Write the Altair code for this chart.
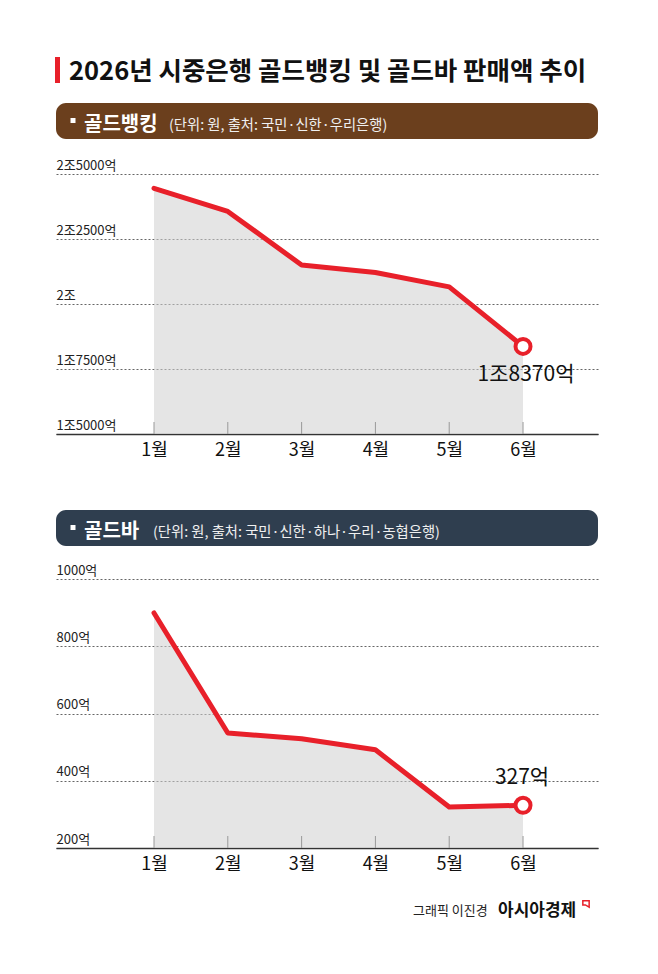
import altair as alt
import pandas as pd

FONT = "Noto Sans CJK KR"
RED = "#e8202a"
BROWN = "#6b3f1d"
SLATE = "#2f3e4f"
W = 542

# ---------------- data ----------------
title_text = ["2026년 시중은행 골드뱅킹 및 골드바 판매액 추이"]
months = [1, 2, 3, 4, 5, 6]
month_labels = ["1월", "2월", "3월", "4월", "5월", "6월"]

bank_title = ["골드뱅킹"]
bank_sub = ["(단위: 원, 출처: 국민·신한·우리은행)"]
bank_values = [24450, 23560, 21500, 21210, 20660, 18370]
bank_last_label = "1조8370억"
bank_ticks = [15000, 17500, 20000, 22500, 25000]
bank_tick_labels = ["1조5000억", "1조7500억", "2조", "2조2500억", "2조5000억"]

bar_title = ["골드바"]
bar_sub = ["(단위: 원, 출처: 국민·신한·하나·우리·농협은행)"]
bar_values = [899, 542, 525, 492, 322, 327]
bar_last_label = "327억"
bar_ticks = [200, 400, 600, 800, 1000]
bar_tick_labels = ["200억", "400억", "600억", "800억", "1000억"]

credit_name = ["그래픽 이진경"]
credit_brand = ["아시아경제"]


def label_expr(vals, labels):
    expr = "''"
    for v, l in reversed(list(zip(vals, labels))):
        expr = f"datum.value == {v} ? '{l}' : ({expr})"
    return expr


xscale = alt.Scale(domain=[-0.328, 7.016], nice=False, zero=False)


def panel(values, ticks, tick_labels, last_label, height, tdx, tdy):
    df = pd.DataFrame({
        "month": months,
        "value": values,
        "label": [""] * (len(months) - 1) + [last_label],
    })
    base = alt.Chart(df)
    xenc = alt.X(
        "month:Q", scale=xscale,
        axis=alt.Axis(values=months, labelExpr=label_expr(months, month_labels),
                      grid=False, ticks=False, domain=True, domainColor="#333",
                      domainWidth=1.5, labelFontSize=18, labelColor="#111",
                      labelPadding=7, title=None, labelFlush=False))
    yenc = alt.Y(
        "value:Q", scale=alt.Scale(domain=[ticks[0], ticks[-1]], nice=False, zero=False),
        axis=alt.Axis(values=ticks, labelExpr=label_expr(ticks, tick_labels),
                      orient="left", labelAlign="left", labelBaseline="alphabetic",
                      labelOffset=-5, labelPadding=0, ticks=False, domain=False,
                      grid=True, gridDash=[2, 2], gridColor="#666", gridWidth=1,
                      labelFontSize=13, labelColor="#222", title=None,
                      labelFlush=False, labelOverlap=False))
    area = base.mark_area(color="#cfcfcf", opacity=0.55).encode(
        x=xenc, y=yenc, y2=alt.datum(ticks[0]))
    rules = base.mark_rule(color="#999", strokeWidth=1).encode(
        x="month:Q", y=alt.value(height - 12), y2=alt.value(height))
    line = base.mark_line(color=RED, strokeWidth=5, strokeCap="round",
                          strokeJoin="round").encode(x="month:Q", y="value:Q")
    last = base.transform_filter(alt.datum.month == months[-1])
    pt = last.mark_point(filled=True, fill="white", stroke=RED, strokeWidth=4,
                         size=225, opacity=1).encode(x="month:Q", y="value:Q")
    txt = last.mark_text(fontSize=21, dx=tdx, dy=tdy, color="#111",
                         baseline="middle").encode(
        x="month:Q", y="value:Q", text="label:N")
    return alt.layer(area, rules, line, pt, txt).properties(width=W, height=height)


def header(title, sub, color, top, height, sub_x):
    d1 = pd.DataFrame({"t": title})
    d2 = pd.DataFrame({"t": sub})
    rect = alt.Chart(d1).mark_rect(color=color, cornerRadius=10).encode(
        x=alt.value(0), x2=alt.value(W), y=alt.value(top), y2=alt.value(top + 36))
    bullet = alt.Chart(d1).mark_square(color="white", size=25, opacity=1).encode(
        x=alt.value(17), y=alt.value(top + 17.5))
    t1 = alt.Chart(d1).mark_text(align="left", baseline="alphabetic", fontSize=20,
                                 fontWeight="bold", color="white").encode(
        x=alt.value(28), y=alt.value(top + 27.5), text="t:N")
    t2 = alt.Chart(d2).mark_text(align="left", baseline="alphabetic", fontSize=14.3,
                                 color="#f0f0f0").encode(
        x=alt.value(sub_x), y=alt.value(top + 27), text="t:N")
    return alt.layer(rect, bullet, t1, t2).properties(width=W, height=height)


one = pd.DataFrame({"t": title_text})
block_title = alt.layer(
    alt.Chart(one).mark_rule(color=RED, strokeWidth=5).encode(
        x=alt.value(1.5), y=alt.value(7), y2=alt.value(33)),
    alt.Chart(one).mark_text(align="left", baseline="alphabetic", fontSize=25.5,
                             fontWeight="bold", color="#111").encode(
        x=alt.value(13), y=alt.value(30), text="t:N"),
).properties(width=W, height=53)

block_h1 = header(bank_title, bank_sub, BROWN, 0, 71, 113)
block_c1 = panel(bank_values, bank_ticks, bank_tick_labels, bank_last_label, 260, 3, 29)
block_h2 = header(bar_title, bar_sub, SLATE, 76, 145, 97)
block_c2 = panel(bar_values, bar_ticks, bar_tick_labels, bar_last_label, 269, -1, -27)

dn = pd.DataFrame({"t": credit_name})
dbr = pd.DataFrame({"t": credit_brand})
block_credit = alt.layer(
    alt.Chart(dn).mark_text(align="left", baseline="alphabetic", fontSize=13,
                            color="#222").encode(
        x=alt.value(357), y=alt.value(67), text="t:N"),
    alt.Chart(dbr).mark_text(align="left", baseline="alphabetic", fontSize=17,
                             fontWeight="bold", color="#111").encode(
        x=alt.value(442), y=alt.value(68), text="t:N"),
    alt.Chart(dbr).mark_point(shape="M-1,-1L1,-1L1,1L-0.2,0.3L-1,0.3Z", filled=False,
                              stroke=RED, strokeWidth=1.5, size=40, opacity=1).encode(
        x=alt.value(530), y=alt.value(56)),
).properties(width=W, height=80)

chart = alt.vconcat(
    block_title, block_h1, block_c1, block_h2, block_c2, block_credit,
    spacing=0, bounds="flush",
).properties(
    padding={"left": 47, "top": 42, "right": 5, "bottom": 5}
).configure(font=FONT).configure_view(stroke=None)

chart.save("out.html", embed_options={"renderer": "svg", "actions": False})
